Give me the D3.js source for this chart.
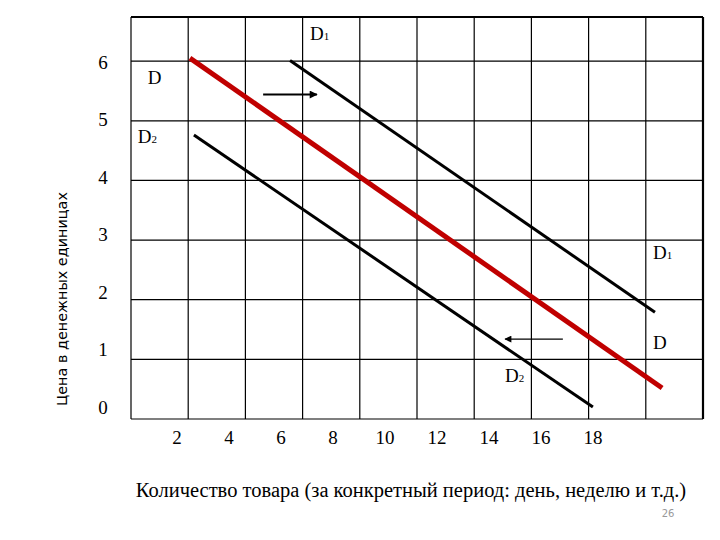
<!DOCTYPE html>
<html>
<head>
<meta charset="utf-8">
<script src="https://cdn.jsdelivr.net/npm/d3@7"></script>
<style>
  html, body { margin: 0; padding: 0; background: #fff; }
  svg { display: block; }
</style>
</head>
<body>
<svg id="chart" width="720" height="540"></svg>
<script>
// ---- data ----
const yTickValues = [0, 1, 2, 3, 4, 5, 6];
const xTickLabels = [2, 4, 6, 8, 10, 12, 14, 16, 18];
const gridCols = [0, 2, 4, 6, 8, 10, 12, 14, 16, 18, 20];
const gridRows = [0, 1, 2, 3, 4, 5, 6, 6.74];

// demand curves (quantity, price)
const dQ = [2.06, 18.57];
const dP = [6.05, 0.52];
const d1Q = [5.56, 18.32];
const d1P = [6.01, 1.79];
const d2Q = [2.2, 16.15];
const d2P = [4.76, 0.2];

// shift arrows
const arrowRightQ = [4.62, 6.5];
const arrowRightP = [5.44, 5.44];
const arrowLeftQ = [15.1, 13.08];
const arrowLeftP = [1.34, 1.34];

// curve labels: main text, subscript, quantity, price
const labelText = ["D", "D", "D", "D", "D", "D"];
const labelSub = ["1", "", "2", "1", "", "2"];
const labelQ = [6.26, 0.59, 0.24, 18.25, 18.25, 13.08];
const labelP = [6.35, 5.614, 4.625, 2.68, 1.17, 0.62];

const xTitle = "Количество товара (за конкретный период: день, неделю и т.д.)";
const yTitle = "Цена в денежных единицах";
const pageNumber = "26";

// ---- drawing ----
(function () {
const svg = d3.select("#chart");
const pLeft = 131, pRight = 703, pTop = 17, pBottom = 419;

const x = d3.scaleLinear().domain([0, 20]).range([pLeft, pRight]);
const y = d3.scaleLinear().domain([0, 6.74]).range([pBottom, pTop]);
const xLab = d3.scaleLinear().domain([2, 18]).range([177, 593]);
const yLab = d3.scaleLinear().domain([0, 6]).range([407, 62]);

const serif = "'Liberation Serif', 'Times New Roman', serif";

// grid
const grid = svg.append("g");
grid.selectAll("line.v").data(gridCols).join("line")
  .attr("x1", d => x(d)).attr("x2", d => x(d))
  .attr("y1", y(6.74)).attr("y2", y(0))
  .attr("stroke", "#000")
  .attr("stroke-width", d => d === 20 ? 2.2 : 1.2);
grid.selectAll("line.h").data(gridRows).join("line")
  .attr("x1", x(0)).attr("x2", x(20))
  .attr("y1", d => y(d)).attr("y2", d => y(d))
  .attr("stroke", "#000")
  .attr("stroke-width", d => d === 6.74 ? 2.2 : 1.2);

// y tick labels
svg.append("g").selectAll("text").data(yTickValues).join("text")
  .attr("x", 103).attr("y", d => yLab(d))
  .attr("dy", "0.35em")
  .attr("text-anchor", "middle")
  .attr("font-family", serif).attr("font-size", 19)
  .text(d => d);

// x tick labels
svg.append("g").selectAll("text").data(xTickLabels).join("text")
  .attr("x", d => xLab(d)).attr("y", 437)
  .attr("dy", "0.35em")
  .attr("text-anchor", "middle")
  .attr("font-family", serif).attr("font-size", 19)
  .text(d => d);

// curves
const line = d3.line().x(d => x(d[0])).y(d => y(d[1]));
const curves = [
  { q: d1Q, p: d1P, color: "#000", w: 3 },
  { q: d2Q, p: d2P, color: "#000", w: 3 },
  { q: dQ, p: dP, color: "#c00000", w: 5 }
];
svg.append("g").selectAll("path").data(curves).join("path")
  .attr("d", c => line(d3.zip(c.q, c.p)))
  .attr("fill", "none")
  .attr("stroke", c => c.color)
  .attr("stroke-width", c => c.w);

// arrow markers
const defs = svg.append("defs");
defs.append("marker").attr("id", "headBig")
  .attr("viewBox", "0 0 10 10").attr("refX", 9).attr("refY", 5)
  .attr("markerUnits", "userSpaceOnUse")
  .attr("markerWidth", 11).attr("markerHeight", 8)
  .attr("orient", "auto")
  .append("path").attr("d", "M0,0 L10,5 L0,10 Z").attr("fill", "#000");
defs.append("marker").attr("id", "headSmall")
  .attr("viewBox", "0 0 10 10").attr("refX", 9).attr("refY", 5)
  .attr("markerUnits", "userSpaceOnUse")
  .attr("markerWidth", 9).attr("markerHeight", 7)
  .attr("orient", "auto")
  .append("path").attr("d", "M0,0 L10,5 L0,10 Z").attr("fill", "#000");

svg.append("path")
  .attr("d", line(d3.zip(arrowRightQ, arrowRightP)))
  .attr("stroke", "#000").attr("stroke-width", 2).attr("fill", "none")
  .attr("marker-end", "url(#headBig)");
svg.append("path")
  .attr("d", line(d3.zip(arrowLeftQ, arrowLeftP)))
  .attr("stroke", "#000").attr("stroke-width", 1.2).attr("fill", "none")
  .attr("marker-end", "url(#headSmall)");

// curve labels
const labels = svg.append("g").selectAll("text").data(d3.range(labelText.length)).join("text")
  .attr("x", i => x(labelQ[i])).attr("y", i => y(labelP[i]))
  .attr("font-family", serif).attr("font-size", 19);
labels.append("tspan").text(i => labelText[i]);
labels.append("tspan").attr("font-size", 11).text(i => labelSub[i]);

// axis titles
svg.append("text")
  .attr("x", 411).attr("y", 497)
  .attr("text-anchor", "middle")
  .attr("font-family", serif).attr("font-size", 20.5)
  .text(xTitle);

svg.append("text")
  .attr("transform", "translate(67,299) rotate(-90)")
  .attr("text-anchor", "middle")
  .attr("font-family", "'DejaVu Sans', Verdana, sans-serif").attr("font-size", 14.4)
  .text(yTitle);

svg.append("text")
  .attr("x", 668).attr("y", 517)
  .attr("text-anchor", "middle")
  .attr("font-family", "'DejaVu Sans', Arial, sans-serif").attr("font-size", 10)
  .attr("fill", "#999")
  .text(pageNumber);
})();
</script>
</body>
</html>
